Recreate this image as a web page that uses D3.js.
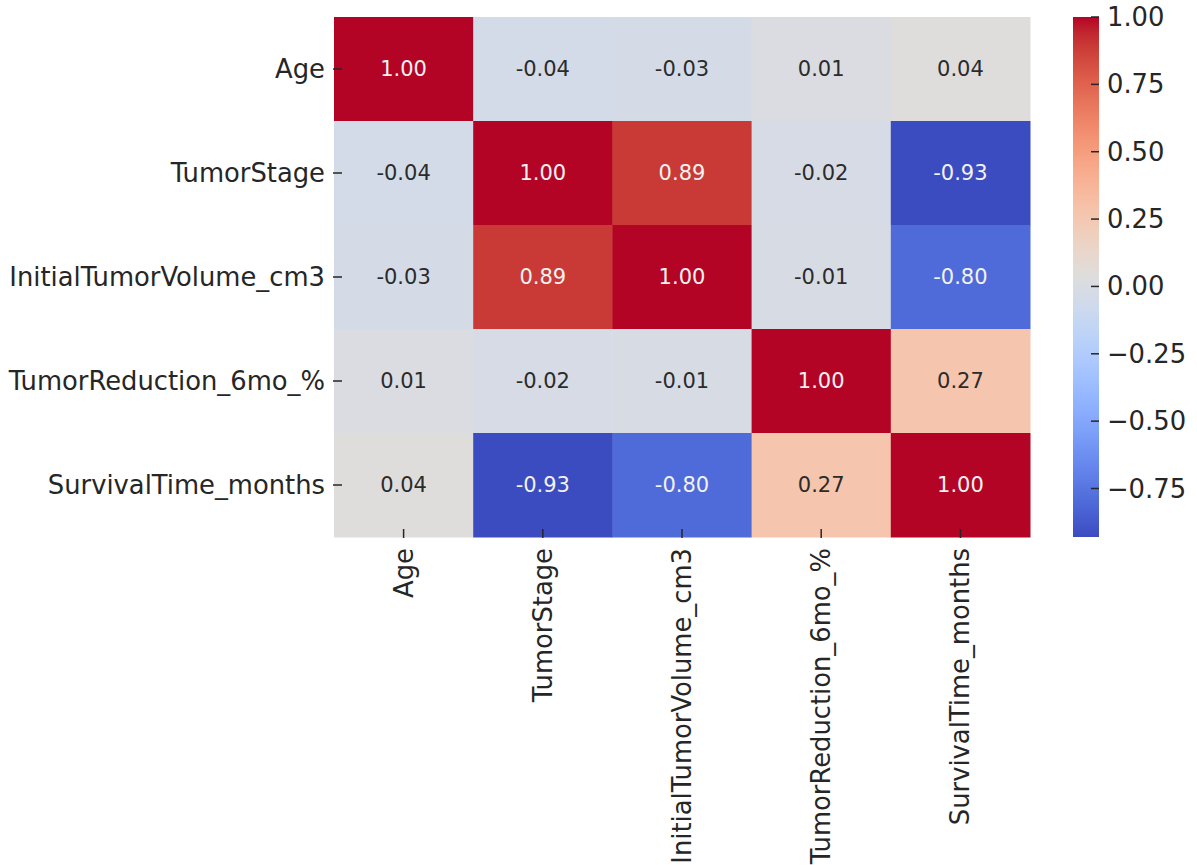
<!DOCTYPE html>
<html>
<head>
<meta charset="utf-8">
<script src="https://cdn.jsdelivr.net/npm/d3@7"></script>
<style>
  html, body { margin: 0; padding: 0; background: #ffffff; }
  svg { display: block; font-family: "DejaVu Sans", sans-serif; }
</style>
</head>
<body>
<svg id="chart" width="1197" height="865"></svg>
<script>
// Variables of the correlation matrix
const variables = [
  "Age",
  "TumorStage",
  "InitialTumorVolume_cm3",
  "TumorReduction_6mo_%",
  "SurvivalTime_months"
];

// Correlation coefficients, row by row
const corrAge        = [ 1.00, -0.04, -0.03,  0.01,  0.04];
const corrStage      = [-0.04,  1.00,  0.89, -0.02, -0.93];
const corrVolume     = [-0.03,  0.89,  1.00, -0.01, -0.80];
const corrReduction  = [ 0.01, -0.02, -0.01,  1.00,  0.27];
const corrSurvival   = [ 0.04, -0.93, -0.80,  0.27,  1.00];
const matrix = [corrAge, corrStage, corrVolume, corrReduction, corrSurvival];

// Colorbar tick values
const colorbarTicks = [1.00, 0.75, 0.50, 0.25, 0.00, -0.25, -0.50, -0.75];

// coolwarm colour map (Moreland diverging table)
const coolwarmStops = [
  [59,76,192],[68,90,204],[77,104,215],[87,117,225],[98,130,234],[108,142,241],
  [119,154,247],[130,165,251],[141,176,254],[152,185,255],[163,194,255],[174,201,253],
  [184,208,249],[194,213,244],[204,217,238],[213,219,230],[221,221,221],[229,216,209],
  [236,211,197],[241,204,185],[245,196,173],[247,187,160],[247,177,148],[247,166,135],
  [244,154,123],[241,141,111],[236,127,99],[229,112,88],[222,96,77],[213,80,66],
  [203,62,56],[192,40,47],[180,4,38]
].map(c => d3.rgb(c[0], c[1], c[2]).formatHex());
const coolwarm = d3.piecewise(d3.interpolateRgb, coolwarmStops);

const allValues = matrix.flat();
const vmin = d3.min(allValues);
const vmax = d3.max(allValues);
const color = d3.scaleSequential(coolwarm).domain([vmin, vmax]);

const svg = d3.select("#chart");

// Heatmap area
const plotLeft = 334, plotTop = 17, plotRight = 1030, plotBottom = 537;
const x = d3.scaleBand().domain(variables).range([plotLeft, plotRight]);
const y = d3.scaleBand().domain(variables).range([plotTop, plotBottom]);

const cells = [];
matrix.forEach((row, i) => row.forEach((v, j) => cells.push({ r: variables[i], c: variables[j], v })));

svg.append("g").selectAll("rect")
  .data(cells)
  .join("rect")
  .attr("x", d => x(d.c))
  .attr("y", d => y(d.r))
  .attr("width", x.bandwidth() + 0.5)
  .attr("height", y.bandwidth() + 0.5)
  .attr("fill", d => color(d.v));

// Luminance decides annotation colour
function luminance(c) {
  const rgb = d3.rgb(c);
  const f = u => { u /= 255; return u <= 0.03928 ? u / 12.92 : Math.pow((u + 0.055) / 1.055, 2.4); };
  return 0.2126 * f(rgb.r) + 0.7152 * f(rgb.g) + 0.0722 * f(rgb.b);
}

svg.append("g").selectAll("text")
  .data(cells)
  .join("text")
  .attr("x", d => x(d.c) + x.bandwidth() / 2)
  .attr("y", d => y(d.r) + y.bandwidth() / 2)
  .attr("text-anchor", "middle")
  .attr("dominant-baseline", "central")
  .attr("font-size", "21px")
  .attr("fill", d => luminance(color(d.v)) < 0.408 ? "#f2f2f2" : "#2b2b2b")
  .text(d => d.v.toFixed(2));

// Y axis: tick marks and labels
const yAxis = svg.append("g");
yAxis.selectAll("line")
  .data(variables)
  .join("line")
  .attr("x1", plotLeft - 1).attr("x2", plotLeft + 8)
  .attr("y1", d => y(d) + y.bandwidth() / 2)
  .attr("y2", d => y(d) + y.bandwidth() / 2)
  .attr("stroke", "#262626").attr("stroke-width", 1.5);
yAxis.selectAll("text")
  .data(variables)
  .join("text")
  .attr("x", 325)
  .attr("y", d => y(d) + y.bandwidth() / 2)
  .attr("text-anchor", "end")
  .attr("dominant-baseline", "central")
  .attr("font-size", "25.8px")
  .attr("fill", "#262626")
  .text(d => d);

// X axis: tick marks and rotated labels
const xAxis = svg.append("g");
xAxis.selectAll("line")
  .data(variables)
  .join("line")
  .attr("x1", d => x(d) + x.bandwidth() / 2)
  .attr("x2", d => x(d) + x.bandwidth() / 2)
  .attr("y1", plotBottom - 8).attr("y2", plotBottom + 1)
  .attr("stroke", "#262626").attr("stroke-width", 1.5);
xAxis.selectAll("text")
  .data(variables)
  .join("text")
  .attr("transform", d => `translate(${x(d) + x.bandwidth() / 2},548) rotate(-90)`)
  .attr("text-anchor", "end")
  .attr("dominant-baseline", "central")
  .attr("font-size", "25.8px")
  .attr("fill", "#262626")
  .text(d => d);

// Colorbar
const cbLeft = 1073, cbWidth = 26;
const cbScale = d3.scaleLinear().domain([vmin, vmax]).range([plotBottom, plotTop]);
const defs = svg.append("defs");
const grad = defs.append("linearGradient")
  .attr("id", "cbGrad")
  .attr("x1", 0).attr("y1", 1).attr("x2", 0).attr("y2", 0);
d3.range(0, 1.0001, 1 / 64).forEach(t => {
  grad.append("stop").attr("offset", t).attr("stop-color", coolwarm(t));
});
svg.append("rect")
  .attr("x", cbLeft).attr("y", plotTop)
  .attr("width", cbWidth).attr("height", plotBottom - plotTop)
  .attr("fill", "url(#cbGrad)");

const cbAxis = svg.append("g");
cbAxis.selectAll("line")
  .data(colorbarTicks)
  .join("line")
  .attr("x1", cbLeft + cbWidth - 8).attr("x2", cbLeft + cbWidth)
  .attr("y1", d => cbScale(d)).attr("y2", d => cbScale(d))
  .attr("stroke", "#262626").attr("stroke-width", 1.5);
cbAxis.selectAll("text")
  .data(colorbarTicks)
  .join("text")
  .attr("x", 1107)
  .attr("y", d => cbScale(d))
  .attr("dominant-baseline", "central")
  .attr("font-size", "25.8px")
  .attr("fill", "#262626")
  .text(d => d3.format(".2f")(d).replace("-", "\u2212"));
</script>
</body>
</html>
